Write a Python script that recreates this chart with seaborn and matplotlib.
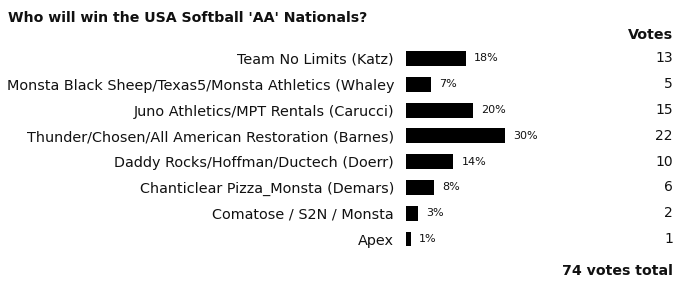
import matplotlib
matplotlib.use("Agg")
import matplotlib.pyplot as plt
import matplotlib.transforms as mtransforms
import seaborn as sns
import pandas as pd

title = "Who will win the USA Softball 'AA' Nationals?"
teams = [
    "Team No Limits (Katz)",
    "Monsta Black Sheep/Texas5/Monsta Athletics (Whaley",
    "Juno Athletics/MPT Rentals (Carucci)",
    "Thunder/Chosen/All American Restoration (Barnes)",
    "Daddy Rocks/Hoffman/Ductech (Doerr)",
    "Chanticlear Pizza_Monsta (Demars)",
    "Comatose / S2N / Monsta",
    "Apex",
]
votes = [13, 5, 15, 22, 10, 6, 2, 1]
percents = [18, 7, 20, 30, 14, 8, 3, 1]
total_label = "74 votes total"

df = pd.DataFrame({"team": teams, "pct": percents, "votes": votes})

sns.set_theme(style="white")
plt.rcParams["font.family"] = ["DejaVu Sans"]

W, H = 682, 285
fig = plt.figure(figsize=(W / 100, H / 100), dpi=100)
fig.patch.set_facecolor("white")

left_px, right_px = 406, 674
top_px, bot_px = 45.6, 251.9
ax = fig.add_axes([left_px / W, 1 - bot_px / H, (right_px - left_px) / W, (bot_px - top_px) / H])

sns.barplot(data=df, x="pct", y="team", orient="h", color="black", width=0.426,
            saturation=1, edgecolor="black", linewidth=2.88, ax=ax)
for p in ax.patches:
    p.set_joinstyle("miter")
ax.set_xlim(0, (right_px - left_px) / 3.24)
ax.set_ylim(7.5, -0.5)
ax.set_xlabel("")
ax.set_ylabel("")
ax.set_xticks([])
ax.tick_params(axis="y", length=0, pad=8.6, labelsize=10.4, colors="#111111")
for s in ax.spines.values():
    s.set_visible(False)

pct_trans = mtransforms.offset_copy(ax.transData, fig=fig, x=7.2, y=0, units="points")
vote_trans = mtransforms.blended_transform_factory(ax.transAxes, ax.transData)
for i, (p, v) in enumerate(zip(percents, votes)):
    ax.text(p, i, f"{p}%", transform=pct_trans,
            ha="left", va="center", fontsize=8, color="#111111")
    ax.text(673 / W * 0 + (673 - left_px) / (right_px - left_px), i, str(v), transform=vote_trans,
            ha="right", va="center", fontsize=10, color="#111111")

fig.text(8 / W, 1 - 18 / H, title, ha="left", va="center", fontsize=10.2, fontweight="bold", color="#111111")
fig.text(673 / W, 1 - 35 / H, "Votes", ha="right", va="center", fontsize=10.3, fontweight="bold", color="#111111")
fig.text(673 / W, 1 - 271 / H, total_label, ha="right", va="center", fontsize=10.2, fontweight="bold", color="#111111")

fig.savefig("out.png", dpi=100, facecolor="white")
